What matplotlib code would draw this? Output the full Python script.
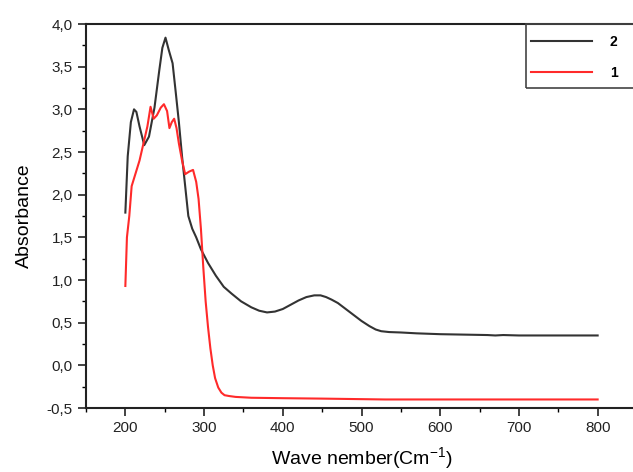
import matplotlib.pyplot as plt
from matplotlib.ticker import MultipleLocator, FuncFormatter
from matplotlib.patches import Rectangle

plt.rcParams['font.family'] = ['Liberation Sans', 'DejaVu Sans']
plt.rcParams['mathtext.fontset'] = 'custom'
plt.rcParams['mathtext.rm'] = 'Liberation Sans'
plt.rcParams['mathtext.default'] = 'regular'

# spectrum 2 (black)
x2 = [200, 203, 207, 211, 214, 218, 224, 230, 237, 243, 247, 251, 255, 260, 264, 268,
      272, 276, 280, 285, 290, 296, 305, 315, 325, 335, 347, 360, 370, 380, 390, 400,
      410, 420, 430, 440, 448, 455, 462, 470, 480, 490, 500, 510, 518, 525, 535, 550,
      570, 600, 630, 660, 670, 680, 700, 720, 750, 800]
y2 = [1.79, 2.45, 2.85, 3.0, 2.97, 2.8, 2.58, 2.68, 3.02, 3.45, 3.72, 3.84, 3.7, 3.54, 3.2, 2.85,
      2.45, 2.1, 1.75, 1.6, 1.5, 1.36, 1.2, 1.05, 0.92, 0.84, 0.75, 0.68, 0.64, 0.62, 0.63, 0.66,
      0.71, 0.76, 0.8, 0.82, 0.82, 0.8, 0.77, 0.73, 0.66, 0.59, 0.52, 0.46, 0.42, 0.4, 0.39, 0.385,
      0.375, 0.365, 0.36, 0.355, 0.35, 0.355, 0.35, 0.35, 0.35, 0.35]

# spectrum 1 (red)
x1 = [200, 202, 205, 208, 213, 218, 223, 228, 232, 236, 240, 245, 249, 253, 256, 259,
      262, 265, 268, 272, 276, 281, 286, 290, 293, 296, 299, 302, 305, 308, 311, 314,
      318, 322, 326, 332, 340, 360, 400, 450, 530, 600, 700, 800]
y1 = [0.93, 1.5, 1.75, 2.1, 2.25, 2.4, 2.6, 2.8, 3.03, 2.89, 2.93, 3.02, 3.06, 2.98, 2.78, 2.85,
      2.89, 2.78, 2.6, 2.4, 2.24, 2.27, 2.29, 2.15, 1.95, 1.6, 1.15, 0.75, 0.45, 0.2, 0.0, -0.15,
      -0.26, -0.32, -0.35, -0.36, -0.37, -0.38, -0.385, -0.39, -0.4, -0.4, -0.4, -0.4]

W, H = 633, 472
fig = plt.figure(figsize=(W / 100, H / 100), dpi=100)
ax = fig.add_axes([86 / W, 1 - 408 / H, (637 - 86) / W, 384 / H])

l2, = ax.plot(x2, y2, color='#333333', lw=1.5, label='2')
l1, = ax.plot(x1, y1, color='#ff2a2a', lw=1.5, label='1')

ax.set_xlim(150, 850)
ax.set_ylim(-0.5, 4.0)
ax.xaxis.set_major_locator(MultipleLocator(100))
ax.xaxis.set_minor_locator(MultipleLocator(50))
ax.yaxis.set_major_locator(MultipleLocator(0.5))
ax.yaxis.set_minor_locator(MultipleLocator(0.25))
ax.yaxis.set_major_formatter(FuncFormatter(lambda v, p: f'{v:.1f}'.replace('.', ',')))
ax.xaxis.set_major_formatter(FuncFormatter(lambda v, p: '' if v < 200 or v > 800 else f'{v:.0f}'))
ax.tick_params(which='major', direction='out', length=6, width=1.2, labelsize=11, colors='#222222')
ax.tick_params(which='minor', direction='out', length=3, width=1.0)
for s in ax.spines.values():
    s.set_linewidth(1.5)
    s.set_color('#222222')

ax.set_xlabel('Wave nember(Cm$^{-1}$)', fontsize=14, labelpad=7)
ax.set_ylabel('Absorbance', fontsize=14, labelpad=10)

# legend box (right side runs off the picture)
fig.patches.append(Rectangle((526 / W, 1 - 88 / H), 0.3, 64 / H, transform=fig.transFigure,
                             fill=False, edgecolor='#444444', lw=1.2))
leg = ax.legend(handles=[l2, l1], loc='upper left', bbox_to_anchor=(528 / W, 1 - 32 / H),
                bbox_transform=fig.transFigure, frameon=False, handlelength=4.4,
                handletextpad=1.3, labelspacing=1.25, borderaxespad=0, borderpad=0.2,
                prop={'weight': 'bold', 'size': 10})

fig.savefig('out.png', dpi=100)
